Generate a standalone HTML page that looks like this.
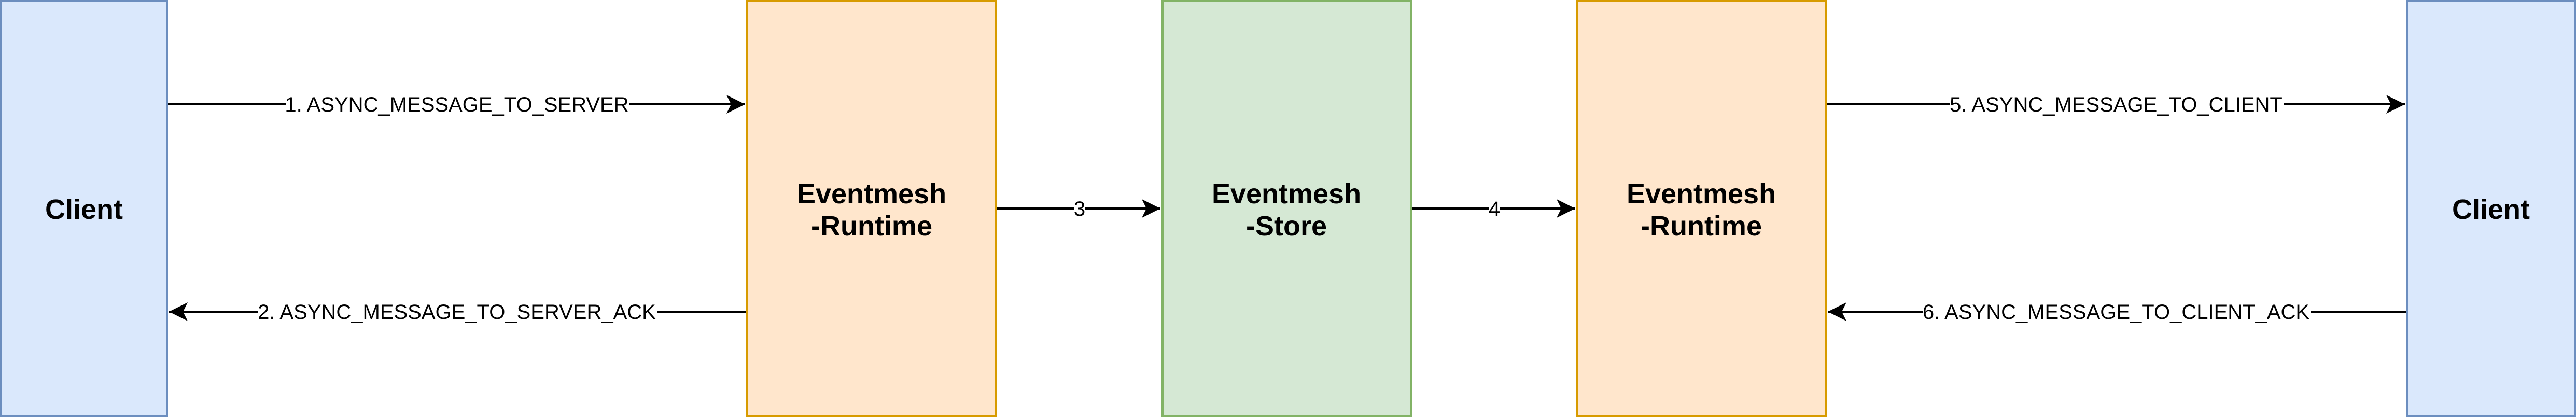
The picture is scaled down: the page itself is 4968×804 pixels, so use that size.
<!DOCTYPE html>
<html><head><meta charset="utf-8"><style>
html,body{margin:0;padding:0;background:#fff;}
svg{display:block;}
.b{font-family:"Liberation Sans",Arial,sans-serif;font-weight:bold;font-size:54px;}
.l{font-family:"Liberation Sans",Arial,sans-serif;font-size:40px;}
</style></head><body>
<svg width="4968" height="804" viewBox="0 0 4968 804" xmlns="http://www.w3.org/2000/svg">
<defs>
<marker id="a" markerUnits="userSpaceOnUse" markerWidth="40" markerHeight="40" viewBox="0 0 40 40" refX="38" refY="20" orient="auto">
<path d="M2,2 L38,20 L2,38 L11,20 Z" fill="#000"/>
</marker>
</defs>
<rect x="2" y="2" width="320" height="800" fill="#dae8fc" stroke="#6c8ebf" stroke-width="4"/>
<rect x="1441" y="2" width="480" height="800" fill="#ffe6cc" stroke="#d79b00" stroke-width="4"/>
<rect x="2242" y="2" width="479" height="800" fill="#d5e8d4" stroke="#82b366" stroke-width="4"/>
<rect x="3042" y="2" width="479" height="800" fill="#ffe6cc" stroke="#d79b00" stroke-width="4"/>
<rect x="4642" y="2" width="324" height="800" fill="#dae8fc" stroke="#6c8ebf" stroke-width="4"/>

<text class="b" x="162" y="422" text-anchor="middle">Client</text>
<text class="b" x="4804" y="422" text-anchor="middle">Client</text>
<text class="b" x="1681" y="392" text-anchor="middle">Eventmesh</text>
<text class="b" x="1681" y="454" text-anchor="middle">-Runtime</text>
<text class="b" x="2481" y="392" text-anchor="middle">Eventmesh</text>
<text class="b" x="2481" y="454" text-anchor="middle">-Store</text>
<text class="b" x="3281" y="392" text-anchor="middle">Eventmesh</text>
<text class="b" x="3281" y="454" text-anchor="middle">-Runtime</text>

<g stroke="#000" stroke-width="4" fill="none">
<line x1="324" y1="201" x2="1437" y2="201" marker-end="url(#a)"/>
<line x1="1439" y1="601" x2="326" y2="601" marker-end="url(#a)"/>
<line x1="1923" y1="402" x2="2238" y2="402" marker-end="url(#a)"/>
<line x1="2723" y1="402" x2="3038" y2="402" marker-end="url(#a)"/>
<line x1="3523" y1="201" x2="4638" y2="201" marker-end="url(#a)"/>
<line x1="4640" y1="601" x2="3525" y2="601" marker-end="url(#a)"/>
</g>
<g fill="#fff">
<rect x="551" y="181" width="663" height="42"/>
<rect x="498" y="581" width="770" height="42"/>
<rect x="2071" y="382" width="22" height="42"/>
<rect x="2871" y="382" width="22" height="42"/>
<rect x="3760" y="181" width="644" height="42"/>
<rect x="3708" y="581" width="749" height="42"/>
</g>
<g class="l" text-anchor="middle" fill="#000">
<text x="881" y="215">1. ASYNC_MESSAGE_TO_SERVER</text>
<text x="881" y="615">2. ASYNC_MESSAGE_TO_SERVER_ACK</text>
<text x="2082" y="416">3</text>
<text x="2882" y="416">4</text>
<text x="4081" y="215">5. ASYNC_MESSAGE_TO_CLIENT</text>
<text x="4081" y="615">6. ASYNC_MESSAGE_TO_CLIENT_ACK</text>
</g>
</svg>
</body></html>
